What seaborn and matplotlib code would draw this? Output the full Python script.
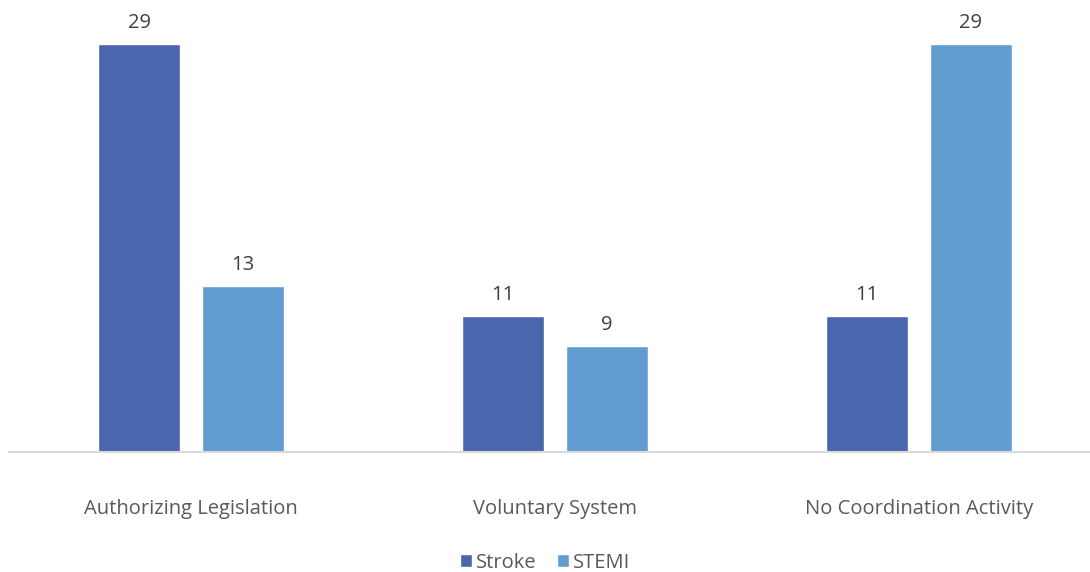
import matplotlib
matplotlib.use("Agg")
import matplotlib.pyplot as plt
import seaborn as sns
import pandas as pd

categories = ["Authorizing Legislation", "Voluntary System", "No Coordination Activity"]
series = ["Stroke", "STEMI"]
stroke = [29, 11, 11]
stemi = [13, 9, 29]
colors = ["#4A66AC", "#629DD1"]

df = pd.DataFrame({
    "category": categories * 2,
    "series": [series[0]] * 3 + [series[1]] * 3,
    "value": stroke + stemi,
})

sns.set_theme(style="white")
plt.rcParams["font.family"] = ["Open Sans", "DejaVu Sans"]
text_color = "#595959"

fig = plt.figure(figsize=(10.9, 5.72), dpi=100)
ax = fig.add_axes([9 / 1090, 120 / 572, 1092 / 1090, 452 / 572])
sns.barplot(data=df, x="category", y="value", hue="series", palette=colors,
            width=0.571, gap=0.212, ax=ax, legend=True, saturation=1)
ax.set_ylim(2, 31.9)
ax.set_xlim(-0.5, 2.5)
for c in ax.containers:
    ax.bar_label(c, padding=8, fontsize=14.5, color="#404040")
ax.set_xlabel("")
ax.set_ylabel("")
ax.set_yticks([])
for s in ["top", "right", "left"]:
    ax.spines[s].set_visible(False)
ax.spines["bottom"].set_color("#D9D9D9")
ax.spines["bottom"].set_linewidth(1.5)
ax.tick_params(axis="x", colors=text_color, labelsize=14.5, length=0, pad=34)
for t in ax.get_xticklabels():
    t.set_color(text_color)

handles, labels = ax.get_legend_handles_labels()
ax.legend_.remove()
leg = fig.legend(handles, labels, loc="lower center", bbox_to_anchor=(0.5, -0.033),
                 ncol=2, frameon=False, fontsize=14.5, handlelength=0.6, handleheight=0.6,
                 handletextpad=0.2, columnspacing=1.0)
for t in leg.get_texts():
    t.set_color(text_color)

fig.savefig("out.png", dpi=100)
